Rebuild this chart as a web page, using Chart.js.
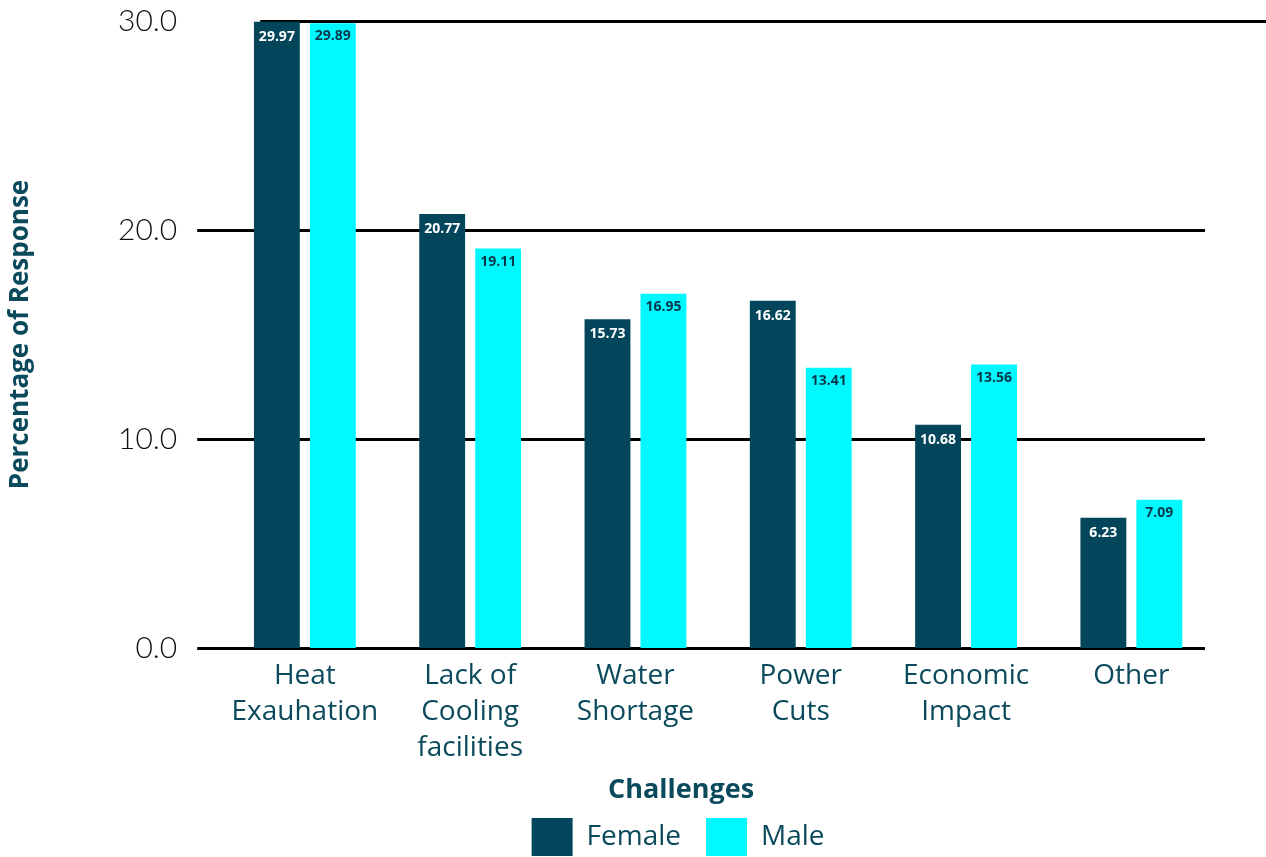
<!DOCTYPE html>
<html>
<head>
<meta charset="utf-8">
<script src="https://cdn.jsdelivr.net/npm/chart.js@4.4.1/dist/chart.umd.min.js"></script>
<style>
  html, body { margin: 0; padding: 0; background: #ffffff; }
  #wrap { width: 1266px; height: 857px; }
</style>
</head>
<body>
<div id="wrap"><canvas id="chart" width="1266" height="857"></canvas></div>
<script>
// Survey responses: challenges reported, split by gender (percent)
const categories = [
  ["Heat", "Exauhation"],
  ["Lack of", "Cooling", "facilities"],
  ["Water", "Shortage"],
  ["Power", "Cuts"],
  ["Economic", "Impact"],
  ["Other"]
];
const femaleValues = [29.97, 20.77, 15.73, 16.62, 10.68, 6.23];
const maleValues   = [29.89, 19.11, 16.95, 13.41, 13.56, 7.09];
const yTicks = [0, 10, 20, 30];
const xAxisCaption = "Challenges";

const DARK = "#03455a";
const CYAN = "#00f8ff";
const TEXT = "#0b4a5c";
const LABEL_FONT = "'Open Sans', 'Noto Sans', sans-serif";

// Horizontal reference lines, drawn under the bars
const gridLines = {
  id: "gridLines",
  beforeDatasetsDraw(chart) {
    const { ctx, scales: { y }, chartArea } = chart;
    ctx.save();
    ctx.strokeStyle = "#000000";
    ctx.lineWidth = 3;
    yTicks.forEach(v => {
      const py = Math.round(y.getPixelForValue(v)) + 0.5;
      const isTop = v === yTicks[yTicks.length - 1];
      const x0 = isTop ? chartArea.left + 38 : chartArea.left - 25;
      const x1 = isTop ? chart.width : chartArea.right - 9;
      ctx.beginPath();
      ctx.moveTo(x0, py);
      ctx.lineTo(x1, py);
      ctx.stroke();
    });
    ctx.restore();
  }
};

// Legend and x caption share one centre line, a little left of the plot centre
const legendShift = {
  id: "legendShift",
  afterLayout(chart) {
    const lg = chart.legend;
    const target = (chart.chartArea.left + chart.chartArea.right) / 2 - 40;
    const dx = target - (lg.left + lg.right) / 2;
    lg.left += dx;
    lg.right += dx;
  },
  afterDraw(chart) {
    const { ctx, scales: { x } } = chart;
    const lg = chart.legend;
    ctx.save();
    ctx.font = "bold 27px 'Open Sans', 'Noto Sans', sans-serif";
    ctx.fillStyle = TEXT;
    ctx.textAlign = "center";
    ctx.textBaseline = "middle";
    ctx.fillText(xAxisCaption, (lg.left + lg.right) / 2 + 3, x.bottom - 3);
    ctx.restore();
  }
};

// Value labels placed inside the top of each bar
const barValues = {
  id: "barValues",
  afterDatasetsDraw(chart) {
    const { ctx } = chart;
    ctx.save();
    ctx.font = "bold 14px 'Open Sans', 'Noto Sans', sans-serif";
    ctx.textAlign = "center";
    ctx.textBaseline = "middle";
    chart.data.datasets.forEach((ds, i) => {
      const meta = chart.getDatasetMeta(i);
      meta.data.forEach((bar, j) => {
        ctx.fillStyle = i === 0 ? "#ffffff" : "#06384a";
        ctx.fillText(ds.data[j].toFixed(2), bar.x, bar.y + (i === 0 ? 15 : 13));
      });
    });
    ctx.restore();
  }
};

new Chart(document.getElementById("chart"), {
  type: "bar",
  data: {
    labels: categories,
    datasets: [
      { label: "Female", data: femaleValues, backgroundColor: DARK, borderWidth: 0 },
      { label: "Male", data: maleValues, backgroundColor: CYAN, borderWidth: 0 }
    ]
  },
  options: {
    responsive: false,
    animation: false,
    devicePixelRatio: 1,
    layout: { padding: { top: 21, right: 52, left: 5, bottom: -9 } },
    datasets: {
      bar: { categoryPercentage: 0.677, barPercentage: 0.82 }
    },
    scales: {
      x: {
        grid: { display: false, drawTicks: false },
        border: { display: false },
        ticks: {
          color: TEXT,
          font: { family: LABEL_FONT, size: 28, lineHeight: 36 / 28 },
          padding: 10,
          maxRotation: 0,
          autoSkip: false
        },
        afterFit(axis) {
          axis.height += 17;
          axis.paddingLeft = 0;
          axis.paddingRight = 0;
        }
      },
      y: {
        min: 0,
        max: 30,
        afterBuildTicks(axis) { axis.ticks = yTicks.map(v => ({ value: v })); },
        grid: { display: false, drawTicks: false },
        border: { display: false },
        ticks: {
          color: "#111111",
          font: { family: "Lato, sans-serif", size: 30, weight: 300 },
          padding: 45,
          callback: v => Number(v).toFixed(1)
        },
        title: {
          display: true,
          text: "Percentage of Response",
          color: TEXT,
          font: { family: LABEL_FONT, size: 26, weight: "bold", lineHeight: 31 / 26 },
          padding: { top: 0, bottom: 37 }
        },
        afterFit(axis) {
          axis.paddingTop = 0;
          axis.paddingBottom = 0;
        }
      }
    },
    plugins: {
      legend: {
        position: "bottom",
        labels: {
          color: TEXT,
          font: { family: LABEL_FONT, size: 28 },
          boxWidth: 41,
          boxHeight: 38,
          padding: 25
        }
      },
      tooltip: { enabled: false }
    }
  },
  plugins: [gridLines, legendShift, barValues]
});
</script>
</body>
</html>
